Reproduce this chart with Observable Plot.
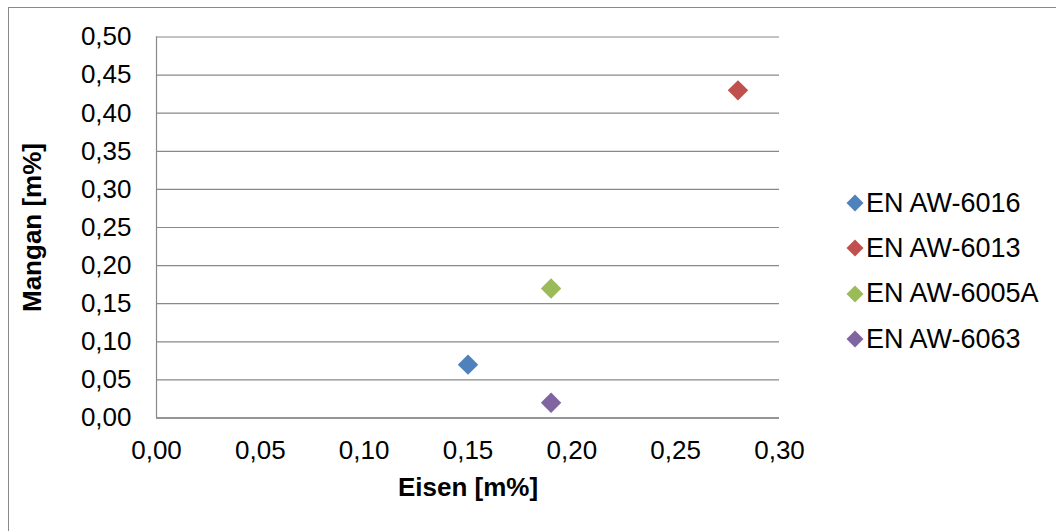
<!DOCTYPE html>
<html>
<head>
<meta charset="utf-8">
<script src="https://cdn.jsdelivr.net/npm/d3@7"></script>
<script src="https://cdn.jsdelivr.net/npm/@observablehq/plot@0.6"></script>
<style>
  html, body { margin: 0; padding: 0; background: #fff; }
  body { width: 1056px; height: 531px; position: relative; overflow: hidden; font-family: "Liberation Sans", Arial, sans-serif; }
  #frame { position: absolute; left: 8px; top: 7px; width: 1200px; height: 700px; border-left: 1px solid #8a8a8a; border-top: 1px solid #8a8a8a; }
  #chart { position: absolute; left: 0; top: 0; }
  #chart svg { font-family: "Liberation Sans", Arial, sans-serif; }
  #chart [aria-label$="axis label"] text { font-weight: bold; font-size: 26px; fill: #000; }
  #legend { position: absolute; left: 845px; top: 180.5px; font-size: 27px; color: #000; }
  .item { display: flex; align-items: center; height: 45.3px; }
  .mk { width: 12px; height: 12px; transform: rotate(45deg); margin: 0 5px 0 4px; }
</style>
</head>
<body>
<div id="frame"></div>
<div id="chart"></div>
<div id="legend"></div>
<script>
// Iron and manganese content of aluminium alloys
const alloys = ["EN AW-6016", "EN AW-6013", "EN AW-6005A", "EN AW-6063"];
const eisen = [0.15, 0.28, 0.19, 0.19];
const mangan = [0.07, 0.43, 0.17, 0.02];
const colors = ["#4F81BD", "#C0504D", "#9BBB59", "#8064A2"];

const xTicks = [0, 0.05, 0.10, 0.15, 0.20, 0.25, 0.30];
const yTicks = [0, 0.05, 0.10, 0.15, 0.20, 0.25, 0.30, 0.35, 0.40, 0.45, 0.50];

const fmt = d => d.toFixed(2).replace(".", ",");
const data = alloys.map((name, i) => ({ name, eisen: eisen[i], mangan: mangan[i] }));

const chart = Plot.plot({
  width: 1056,
  height: 531,
  marginLeft: 156,
  marginRight: 277,
  marginTop: 36.5,
  marginBottom: 113.5,
  style: { fontSize: "26px", color: "#000", background: "transparent", overflow: "visible" },
  x: { domain: [0, 0.3] },
  y: { domain: [0, 0.5] },
  color: { domain: alloys, range: colors },
  marks: [
    Plot.gridY(yTicks, { stroke: "#898989", strokeOpacity: 1, strokeWidth: 1.2 }),
    Plot.ruleX([0], { stroke: "#898989", strokeWidth: 1.2 }),
    Plot.ruleY([0], { stroke: "#868686", strokeWidth: 1.6 }),
    Plot.axisX({ ticks: xTicks, tickFormat: fmt, tickSize: 0, tickPadding: 23, label: "Eisen [m%]", labelAnchor: "center", labelArrow: "none", labelOffset: 78 }),
    Plot.axisY({ ticks: yTicks, tickFormat: fmt, tickSize: 0, tickPadding: 25, label: "Mangan [m%]", labelAnchor: "center", labelArrow: "none", labelOffset: 134 }),
    Plot.dot(data, { x: "eisen", y: "mangan", fill: "name", symbol: "diamond2", r: 9.2, stroke: "none" })
  ]
});
document.getElementById("chart").appendChild(chart);

// Legend on the right
const legend = document.getElementById("legend");
alloys.forEach((name, i) => {
  const row = document.createElement("div");
  row.className = "item";
  const mk = document.createElement("span");
  mk.className = "mk";
  mk.style.background = colors[i];
  const label = document.createElement("span");
  label.textContent = name;
  row.appendChild(mk);
  row.appendChild(label);
  legend.appendChild(row);
});
</script>
</body>
</html>
